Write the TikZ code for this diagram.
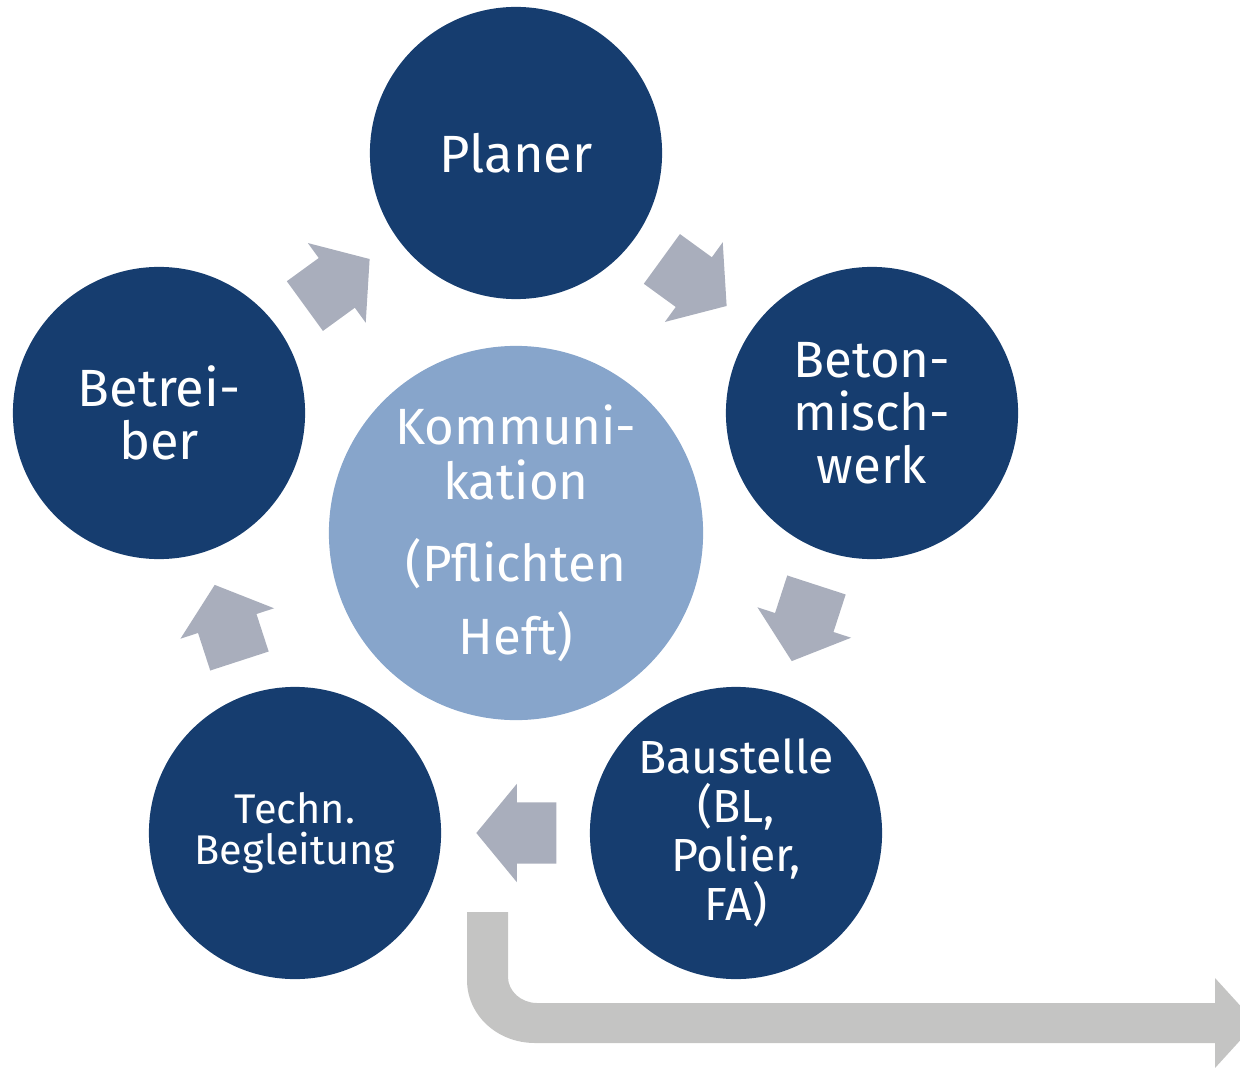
\documentclass[tikz,border=0pt]{standalone}
\usepackage{fontspec}
\setmainfont{Fira Sans}
\usetikzlibrary{shapes.arrows}

\definecolor{darkblue}{HTML}{163D6F}
\definecolor{lightblue}{HTML}{87A5CB}
\definecolor{arrowgray}{HTML}{A9AEBC}
\definecolor{flowgray}{HTML}{C4C4C3}

\begin{document}
\begin{tikzpicture}[x=0.01cm, y=-0.01cm,
    party/.style={circle, fill=darkblue, text=white, inner sep=0pt,
      minimum size=2.92cm, align=center},
    hub/.style={circle, fill=lightblue, text=white, inner sep=0pt,
      minimum size=3.74cm, align=center},
    flow/.style={single arrow, fill=arrowgray, inner xsep=0pt, inner ysep=0.3cm,
      minimum height=0.8cm, single arrow head extend=0.185cm,
      single arrow tip angle=101}]
  \useasboundingbox (0,0) rectangle (1240,1067);

  \node[hub, font=\fontsize{14.5}{15.6}\selectfont] (komm) at (516,533)
    {Kommuni-\\kation\\[7.7pt](Pflichten\\[5.2pt]Heft)};

  \node[party, font=\fontsize{14.9}{15.1}\selectfont] (planer) at (516,153) {Planer};
  \node[party, font=\fontsize{14.5}{15.1}\selectfont] (beton) at (872,413) {Beton-\\misch-\\werk};
  \node[party, font=\fontsize{13.2}{13.9}\selectfont] (baustelle) at (736,833) {Baustelle\\(BL,\\Polier,\\FA)};
  \node[party, font=\fontsize{11.8}{11.6}\selectfont] (techn) at (295,833) {Techn.\\Begleitung};
  \node[party, font=\fontsize{14.9}{15.1}\selectfont] (betreiber) at (159,413) {Betrei-\\ber};

  \node[flow, rotate=36] (a1) at (327,290) {};
  \node[flow, rotate=-36] (a2) at (684,275) {};
  \node[flow, rotate=-108] (a3) at (808,611) {};
  \node[flow, rotate=180] (a4) at (529,833) {};
  \node[flow, rotate=108] (a5) at (231,635) {};

  \begin{scope}
    \clip (0,0) rectangle (1240,1067);
    \fill[flowgray] (467,912) -- (467,980)
      .. controls (467,1015) and (497,1043) .. (535,1043)
      -- (1215,1043) -- (1215,1068) -- (1256,1023) -- (1215,978)
      -- (1215,1003) -- (537,1003)
      .. controls (521,1003) and (508,991) .. (508,977)
      -- (508,912) -- cycle;
  \end{scope}
\end{tikzpicture}
\end{document}
